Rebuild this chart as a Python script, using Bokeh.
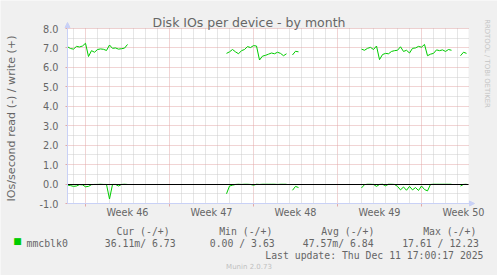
import math
import numpy as np
from bokeh.plotting import figure
from bokeh.models import (Range1d, FixedTicker, PrintfTickFormatter, Label, Arrow,
                          NormalHead, ColumnDataSource, LinearAxis, Grid,
                          BoxAnnotation)
from bokeh.embed import file_html
from bokeh.resources import INLINE

# ---------------- data ----------------
title_text = "Disk IOs per device - by month"
y_label_text = "IOs/second read (-) / write (+)"
week_labels = ["Week 46", "Week 47", "Week 48", "Week 49", "Week 50"]
week_label_pos = [3.5, 10.5, 17.5, 24.5, 31.5]      # days since start of week 46
week_starts = [0, 7, 14, 21, 28]
day_ticks = list(range(-1, 32))
y_ticks = list(range(-1, 9))
y_minor = [i + 0.5 for i in range(-1, 8)]
zero_rule = [0]

step = 0.25  # days between samples
segment_starts = [-1.5, 11.75, 17.25, 23.0, 31.25]
write_segments = [
    [7.06, 6.97, 6.94, 7.08, 7.05, 7.10, 7.24, 6.56, 6.86, 6.78, 6.92, 6.95, 6.93,
     6.87, 7.15, 6.98, 7.00, 6.94, 6.96, 6.99, 7.18],
    [6.72, 6.80, 6.92, 6.80, 6.70, 6.86, 6.92, 7.07, 7.02, 7.12, 7.10, 6.38, 6.58,
     6.62, 6.68, 6.74, 6.70, 6.78, 6.72, 6.60, 6.70],
    [6.64, 6.83, 6.80],
    [6.94, 6.88, 6.98, 7.03, 6.92, 7.10, 6.40, 6.66, 6.72, 6.70, 6.82, 6.86, 6.88,
     7.06, 6.82, 6.88, 6.74, 6.98, 7.00, 7.08, 7.04, 7.18, 6.60, 6.68, 6.72, 6.90,
     6.86, 6.90, 6.82, 6.92, 6.88],
    [6.60, 6.78, 6.72],
]
read_segments = [
    [0.05, 0.08, 0.12, 0.10, 0.03, 0.04, 0.14, 0.12, 0.03, 0.02, 0.02, 0.01, 0.02,
     0.02, 0.77, 0.02, 0.02, 0.10, 0.02, 0.01, 0.02],
    [0.50, 0.10, 0.06, 0.02, 0.01, 0.02, 0.01, 0.01, 0.02, 0.06, 0.01, 0.02, 0.01,
     0.01, 0.01, 0.01, 0.01, 0.02, 0.01, 0.01, 0.01],
    [0.32, 0.12, 0.18],
    [0.20, 0.03, 0.01, 0.01, 0.02, 0.12, 0.02, 0.01, 0.09, 0.01, 0.01, 0.02, 0.12,
     0.30, 0.15, 0.32, 0.12, 0.30, 0.18, 0.33, 0.10, 0.28, 0.35, 0.02, 0.01, 0.01,
     0.01, 0.01, 0.01, 0.01, 0.01],
    [0.10, 0.02, 0.01],
]

device = "mmcblk0"
legend_headers = ["Cur (-/+)", "Min (-/+)", "Avg (-/+)", "Max (-/+)"]
legend_values = ["36.11m/  6.73", "0.00 /  3.63", "47.57m/  6.84", "17.61 / 12.23"]
last_update = "Last update: Thu Dec 11 17:00:17 2025"
munin_version = "Munin 2.0.73"
watermark = "RRDTOOL / TOBI OETIKER"

# ---------------- build series ----------------
xs, yw, yr = [], [], []
for s0, w, r in zip(segment_starts, write_segments, read_segments):
    for i, (wv, rv) in enumerate(zip(w, r)):
        xs.append(s0 + i * step)
        yw.append(wv)
        yr.append(-rv)
    xs.append(np.nan); yw.append(np.nan); yr.append(np.nan)
src = ColumnDataSource(dict(x=np.array(xs), w=np.array(yw), r=np.array(yr)))

# ---------------- layout ----------------
# The frame covers the whole canvas; the white graph area is a box inside it.
W, H = 497, 275
PX_DAY = 12.0            # pixels per day
PX_UNIT = 175.0 / 9.0    # pixels per y unit
ORG_X, ORG_Y = 85.0, 28.0  # canvas pixel of day 0 / y=8
AREA_X0, AREA_X1 = -1.5, 31.9167
AREA_Y0, AREA_Y1 = -1.0, 8.0

def px_x(px):
    return (px - ORG_X) / PX_DAY

def px_y(py):
    return AREA_Y1 - (py - ORG_Y) / PX_UNIT

FONT = "#666666"
AXIS = "#C9D1F6"
GREEN = "#00CC00"
MGRID = "#E2A9A9"
GRID = "#CDCDCD"

p = figure(width=W, height=H,
           x_range=Range1d(px_x(0), px_x(W)), y_range=Range1d(px_y(H), px_y(0)),
           output_backend="svg", toolbar_location=None,
           x_axis_location=None, y_axis_location=None,
           min_border_left=0, min_border_right=0, min_border_top=0, min_border_bottom=0,
           background_fill_color="#F0F0F0", border_fill_color="#F0F0F0",
           outline_line_color=None)
p.grid.visible = False

# white canvas of the graph
p.add_layout(BoxAnnotation(left=AREA_X0, right=AREA_X1, bottom=AREA_Y0, top=AREA_Y1,
                           fill_color="white", fill_alpha=1.0, line_color=None,
                           level="image"))

# grids limited to the graph area
xg = Grid(dimension=0, ticker=FixedTicker(ticks=week_starts,
                                          minor_ticks=[d for d in day_ticks if d % 7 != 0]),
          cross_bounds=(AREA_Y0, AREA_Y1))
yg = Grid(dimension=1, ticker=FixedTicker(ticks=y_ticks, minor_ticks=y_minor),
          cross_bounds=(AREA_X0, AREA_X1))
for g in (xg, yg):
    g.grid_line_color = MGRID
    g.grid_line_dash = "1 1"
    g.minor_grid_line_color = GRID
    g.minor_grid_line_dash = "1 1"
    g.level = "underlay"
    p.add_layout(g)

# axes at fixed positions
ya = LinearAxis(fixed_location=AREA_X0, ticker=FixedTicker(ticks=y_ticks),
                formatter=PrintfTickFormatter(format="%.1f"))
ya.axis_line_color = None
ya.major_tick_line_color = MGRID
ya.major_tick_in = 0
ya.major_tick_out = 2
ya.minor_tick_line_color = None
ya.major_label_standoff = 7
ya.major_label_text_font = "DejaVu Sans"
ya.major_label_text_font_size = "9.7px"
ya.major_label_text_color = FONT
p.add_layout(ya, "left")

xt = LinearAxis(fixed_location=AREA_Y0, ticker=FixedTicker(ticks=week_starts))
xt.axis_line_color = None
xt.major_tick_line_color = MGRID
xt.major_tick_in = 0
xt.major_tick_out = 3
xt.minor_tick_line_color = None
xt.major_label_text_font_size = "0px"
xt.major_label_text_color = None
p.add_layout(xt, "below")

xa = LinearAxis(fixed_location=AREA_Y0, ticker=FixedTicker(ticks=week_label_pos))
xa.major_label_overrides = {pos: lab for pos, lab in zip(week_label_pos, week_labels)}
xa.axis_line_color = None
xa.major_tick_line_color = None
xa.minor_tick_line_color = None
xa.major_label_standoff = -3
xa.major_label_text_font = "DejaVu Sans"
xa.major_label_text_font_size = "9.7px"
xa.major_label_text_color = FONT
p.add_layout(xa, "below")

# series
p.line("x", "w", source=src, line_color=GREEN, line_width=1)
p.line("x", "r", source=src, line_color=GREEN, line_width=1)

# zero rule limited to the graph area
zg = Grid(dimension=1, ticker=FixedTicker(ticks=zero_rule),
          cross_bounds=(AREA_X0, AREA_X1), grid_line_color="black",
          grid_line_width=1, level="annotation")
p.add_layout(zg)

# axis arrows
p.add_layout(Arrow(end=NormalHead(size=5, fill_color=AXIS, line_color=AXIS),
                   x_start=AREA_X0, y_start=AREA_Y0, x_end=AREA_X0, y_end=px_y(22),
                   line_color=AXIS, line_width=1))
p.add_layout(Arrow(end=NormalHead(size=5, fill_color=AXIS, line_color=AXIS),
                   x_start=AREA_X0, y_start=AREA_Y0, x_end=px_x(474), y_end=AREA_Y0,
                   line_color=AXIS, line_width=1))

def label(px, py, text, size, font="DejaVu Sans", color=FONT, align="left",
          baseline="alphabetic", angle=0.0):
    p.add_layout(Label(x=px_x(px), y=px_y(py), text=text,
                       text_font=font, text_font_size=size, text_color=color,
                       text_align=align, text_baseline=baseline, angle=angle))

label(248.5, 22, title_text, "12.5px", align="center")
label(11, 118, y_label_text, "11.1px", align="center", baseline="middle",
      angle=math.pi / 2)
label(486, 63, watermark, "6.9px", color="#C4C4C4", align="center",
      baseline="middle", angle=-math.pi / 2)

MONO = "DejaVu Sans Mono"
for hx, h in zip([116, 218.7, 320.7, 422.7], legend_headers):
    label(hx, 230.5, h, "9.8px", font=MONO)
label(17, 240, "\u25A0", "9px", color=GREEN, align="center", baseline="middle")
label(26, 243, device, "9.8px", font=MONO)
for vx, v in zip([104.3, 209.3, 302.3, 401.7], legend_values):
    label(vx, 243, v, "9.8px", font=MONO)
label(483, 255, last_update, "9.8px", font=MONO, align="right")
label(248.5, 266.5, munin_version, "7px", color="#C0C0C0", align="center")

open("out.html", "w").write(file_html(p, INLINE))
